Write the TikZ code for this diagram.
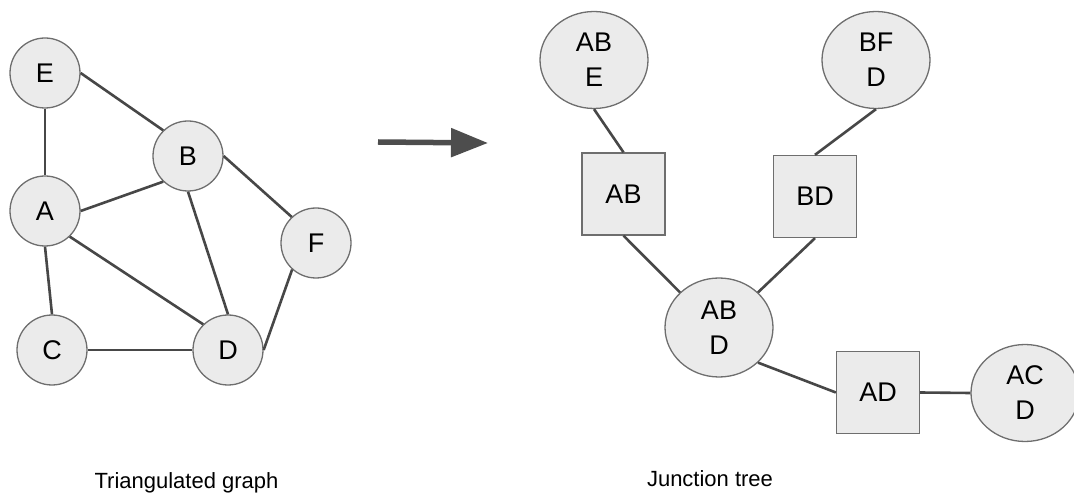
\documentclass[tikz,border=0pt]{standalone}
\usepackage{fontspec}
\setmainfont{Liberation Sans}
\usetikzlibrary{shapes.geometric,arrows.meta}
\definecolor{nodefill}{HTML}{EBEBEB}
\definecolor{nodeborder}{HTML}{6E6E6E}
\definecolor{edgecol}{HTML}{474747}
\definecolor{arrowcol}{HTML}{4D4D4D}
\tikzset{
  vert/.style={circle, draw=nodeborder, fill=nodefill, line width=1.3pt, minimum size=70pt, inner sep=0pt, font=\fontsize{27}{32}\selectfont},
  clique/.style={ellipse, draw=nodeborder, fill=nodefill, line width=1.3pt, minimum width=108pt, minimum height=97pt, inner sep=0pt, align=center, font=\fontsize{27}{35}\selectfont},
  sepbox/.style={rectangle, draw=nodeborder, fill=nodefill, line width=1.3pt, minimum width=83pt, minimum height=82pt, inner sep=0pt, font=\fontsize{27}{32}\selectfont},
  edge/.style={draw=edgecol, line width=2.6pt},
  caption/.style={anchor=base, font=\fontsize{22}{26}\selectfont, text=black}
}
\begin{document}
\begin{tikzpicture}[x=1pt,y=-1pt]
\useasboundingbox (0,0) rectangle (1074,494);
\clip (0,0) rectangle (1074,494);
% left graph
\node[vert] (E) at (45,73) {E};
\node[vert] (B) at (188,156) {B};
\node[vert] (A) at (45,211) {A};
\node[vert] (F) at (316,243) {F};
\node[vert] (C) at (52,350) {C};
\node[vert] (D) at (228,350) {D};
\draw[edge] (E.east) -- (B.134);
\draw[edge] (E.south) -- (A.north);
\draw[edge] (A.east) -- (B.226);
\draw[edge] (B.east) -- (F.133);
\draw[edge] (A.south) -- (C.north);
\draw[edge] (A.-46) -- (D.134);
\draw[edge] (B.south) -- (D.north);
\draw[edge] (C.east) -- (D.west);
\draw[edge] (F.228) -- (D.east);
% arrow
\coordinate (arS) at (378,142);
\coordinate (arT) at (488,143);
\draw[draw=arrowcol, line width=5.5pt, -{Triangle[length=37pt,width=28pt]}] (arS) -- (arT);
% junction tree
\node[clique] (ABE) at (594,60) {AB\\E};
\node[clique] (BFD) at (876,60) {BF\\D};
\node[sepbox] (AB) at (623.5,194) {AB};
\node[sepbox] (BD) at (815,196.5) {BD};
\node[clique, minimum height=99pt] (ABD) at (719,327.5) {AB\\D};
\node[sepbox] (AD) at (878,392.5) {AD};
\node[clique] (ACD) at (1025,393) {AC\\D};
\draw[edge] (ABE.south) -- (AB.north);
\draw[edge] (BFD.south) -- (BD.north);
\draw[edge] (AB.south) -- (ABD.138);
\draw[edge] (BD.south) -- (ABD.42);
\draw[edge] (ABD.-42) -- (AD.west);
\draw[edge] (AD.east) -- (ACD.west);
% captions
\node[caption] (cap1) at (186.5,488) {Triangulated graph};
\node[caption] (cap2) at (710,486) {Junction tree};
\end{tikzpicture}
\end{document}
